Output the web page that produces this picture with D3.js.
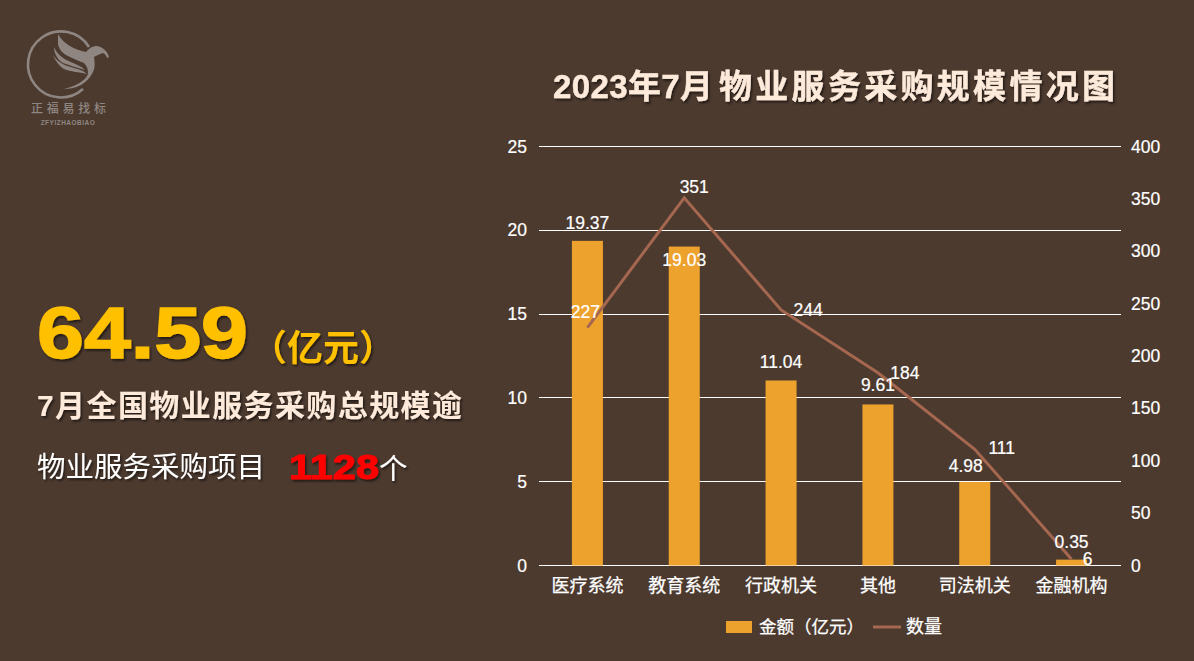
<!DOCTYPE html>
<html><head><meta charset="utf-8">
<script src="https://cdn.jsdelivr.net/npm/d3@7/dist/d3.min.js"></script>
<style>
html,body{margin:0;padding:0;background:#4c3a2f;overflow:hidden}
text{font-family:"Liberation Sans","Noto Sans CJK SC",sans-serif}
</style></head><body>
<svg id="c" width="1194" height="661"></svg>
<script>
const categories=["医疗系统","教育系统","行政机关","其他","司法机关","金融机构"];
const amounts=[19.37,19.03,11.04,9.61,4.98,0.35];
const counts=[227,351,244,184,111,6];
const leftTicks=[0,5,10,15,20,25];
const rightTicks=[0,50,100,150,200,250,300,350,400];
const countLabelOffsets=[[-2,-16],[10,-11],[27,0],[27,0],[27,-1],[16,0]];
const amountLabelOffsets=[-18,13,-18,-19,-16,-18];
const amountLabelShift=[0,0,0,0,-9,0];

const svg=d3.select("#c");
const defs=svg.append("defs");
const sh=(id,dx,dy,b,o)=>{defs.append("filter").attr("id",id).attr("x","-10%").attr("y","-20%").attr("width","120%").attr("height","140%")
 .append("feDropShadow").attr("dx",dx).attr("dy",dy).attr("stdDeviation",b).attr("flood-color","#000").attr("flood-opacity",o);};
sh("s1",1.5,2,1.2,0.55);

const x=d3.scaleBand().domain(categories).range([539,1120]).paddingInner(0).paddingOuter(0);
const yL=d3.scaleLinear().domain([0,25]).range([565.5,146.5]);
const yR=d3.scaleLinear().domain([0,400]).range([565.5,146.5]);
const bw=31;

// logo
const logo=svg.append("g").attr("fill","#8f8682").attr("transform","translate(1,0)");
logo.append("path").attr("d","M88 47 A33 33 0 1 0 82 89").attr("fill","none").attr("stroke","#8f8682").attr("stroke-width",2.6);
logo.append("path").attr("d","M57 34 C62 44 74 50 85 52 C88 48 92 46 95 46 C100 46 106 50 108 57 L106 58 C105 55 104 54 102 53 C99 54 96 55 93 57 C94 64 94 68 92 72 C89 78 85 82 80 85 C74 88 68 89 63 89 C70 87 76 85 80 82 C84 79 87 76 87 73 C87 69 86 66 83 63 C76 60 70 58 65 55 C60 52 57 47 57 43 Z");
logo.append("path").attr("d","M53 47 C56 54 62 59 70 62 C74 64 80 66 84 70 C78 68 70 66 62 63 C57 60 53 54 53 47 Z");
logo.append("path").attr("d","M52 55 C56 61 62 65 70 67 C76 69 82 70 86 74 C78 72 70 72 63 69 C58 66 54 60 52 55 Z");
svg.append("text").attr("x",31).attr("y",113).attr("fill","#8f8682").attr("font-size",12).attr("font-weight",500).attr("textLength",75).attr("lengthAdjust","spacing").text("正福易找标");
svg.append("text").attr("x",68).attr("y",125).attr("text-anchor","middle").attr("fill","#8f8682").attr("font-size",6.5).attr("font-weight",700).attr("letter-spacing",.5).text("ZFYIZHAOBIAO");

// left panel
svg.append("text").attr("x",37).attr("y",358).attr("fill","#ffc000").attr("font-size",73).attr("font-weight",700).attr("filter","url(#s1)").attr("stroke","#ffc000").attr("stroke-width",1.5).attr("textLength",211).attr("lengthAdjust","spacingAndGlyphs").text("64.59");
svg.append("text").attr("x",251).attr("y",361).attr("fill","#ffc000").attr("font-size",36).attr("font-weight",700).attr("filter","url(#s1)").text("（亿元）");
svg.append("text").attr("x",37).attr("y",416).attr("fill","#fdeada").attr("font-size",30).attr("font-weight",700).attr("filter","url(#s1)").attr("textLength",425).attr("lengthAdjust","spacing").text("7月全国物业服务采购总规模逾");
svg.append("text").attr("x",37).attr("y",477).attr("fill","#fff").attr("font-size",28.5).attr("filter","url(#s1)").text("物业服务采购项目");
svg.append("text").attr("x",289).attr("y",479).attr("fill","#ff0000").attr("font-size",35).attr("font-weight",700).attr("filter","url(#s1)").attr("stroke","#ff0000").attr("stroke-width",1).attr("textLength",90).attr("lengthAdjust","spacingAndGlyphs").text("1128");
svg.append("text").attr("x",379).attr("y",479).attr("fill","#fff").attr("font-size",28.5).attr("filter","url(#s1)").text("个");

// title
svg.append("text").attr("x",553).attr("y",98).attr("fill","#fdeada").attr("font-size",33).attr("font-weight",700).attr("stroke","#fdeada").attr("stroke-width",.4).attr("filter","url(#s1)").attr("textLength",160).attr("lengthAdjust","spacing").text("2023年7月");
svg.append("text").attr("x",719).attr("y",98).attr("fill","#fdeada").attr("font-size",33).attr("font-weight",700).attr("stroke","#fdeada").attr("stroke-width",.4).attr("filter","url(#s1)").attr("textLength",396).attr("lengthAdjust","spacing").text("物业服务采购规模情况图");

// grid
svg.append("g").selectAll("line").data(leftTicks).join("line").attr("x1",539).attr("x2",1121).attr("y1",d=>yL(d)).attr("y2",d=>yL(d)).attr("stroke","#fff").attr("stroke-width",1).attr("shape-rendering","crispEdges");

// axes
const ax=(sel,gen)=>{sel.call(gen);sel.select(".domain").remove();sel.selectAll(".tick line").remove();sel.selectAll("text").attr("fill","#fff").attr("font-size",17.5).attr("stroke","#fff").attr("stroke-width",.2);};
svg.append("g").attr("transform","translate(527,0)").call(s=>ax(s,d3.axisLeft(yL).tickValues(leftTicks).tickSize(0).tickPadding(0)));
svg.append("g").attr("transform","translate(1131,0)").call(s=>ax(s,d3.axisRight(yR).tickValues(rightTicks).tickSize(0).tickPadding(0)));
const xg=svg.append("g").attr("transform","translate(0,565)");
xg.call(d3.axisBottom(x).tickSize(0).tickPadding(14));
xg.select(".domain").remove();
xg.selectAll("text").attr("fill","#fff").attr("font-size",18).attr("stroke","#fff").attr("stroke-width",.25);

// bars
svg.selectAll("rect.b").data(categories).join("rect").attr("class","b")
 .attr("x",d=>x(d)+x.bandwidth()/2-bw/2).attr("width",bw)
 .attr("y",(d,i)=>yL(amounts[i])).attr("height",(d,i)=>yL(0)-yL(amounts[i])).attr("fill","#eea22e");

// line
const line=d3.line().x((d,i)=>x(categories[i])+x.bandwidth()/2).y(d=>yR(d));
svg.append("path").datum(counts).attr("d",line).attr("fill","none").attr("stroke","#a5674f").attr("stroke-width",3);

// labels
const lab=s=>s.attr("text-anchor","middle").attr("fill","#fff").attr("font-size",17.5).attr("stroke","#fff").attr("stroke-width",.2);
svg.selectAll("text.a").data(amounts).join("text").attr("class","a").call(lab)
 .attr("x",(d,i)=>x(categories[i])+x.bandwidth()/2+amountLabelShift[i]).attr("y",(d,i)=>yL(d)+amountLabelOffsets[i]+6).text(d=>d.toFixed(2));
svg.selectAll("text.n").data(counts).join("text").attr("class","n").call(lab)
 .attr("x",(d,i)=>x(categories[i])+x.bandwidth()/2+countLabelOffsets[i][0]).attr("y",(d,i)=>yR(d)+countLabelOffsets[i][1]+6).text(d=>d);

// legend
svg.append("rect").attr("x",726).attr("y",621).attr("width",26).attr("height",12).attr("fill","#eea22e");
svg.append("text").attr("x",759).attr("y",633).attr("fill","#fff").attr("font-size",17.5).attr("stroke","#fff").attr("stroke-width",.25).text("金额（亿元）");
svg.append("line").attr("x1",873).attr("x2",901).attr("y1",627).attr("y2",627).attr("stroke","#a5674f").attr("stroke-width",3);
svg.append("text").attr("x",906).attr("y",633).attr("fill","#fff").attr("font-size",18).attr("stroke","#fff").attr("stroke-width",.25).text("数量");
</script></body></html>
